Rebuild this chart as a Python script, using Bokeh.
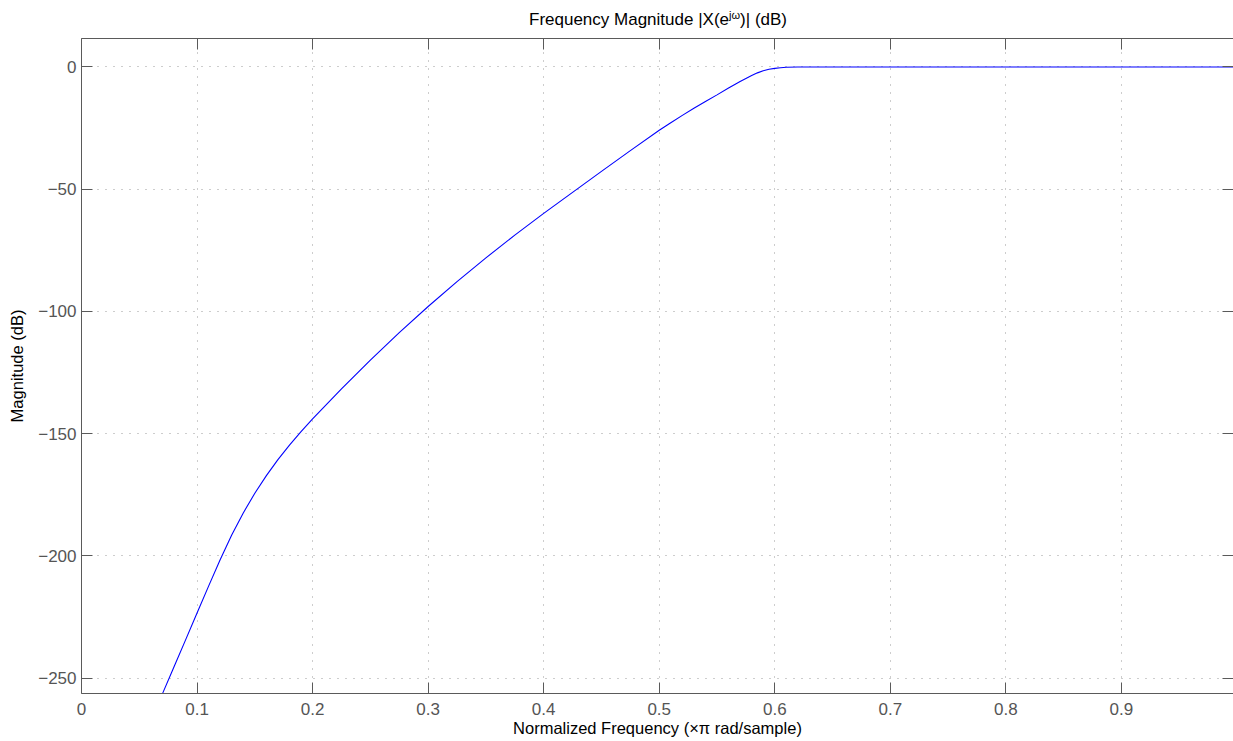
from bokeh.plotting import figure
from bokeh.models import Range1d, LinearAxis, FixedTicker, Div
from bokeh.layouts import column
from bokeh.embed import file_html
from bokeh.resources import INLINE

# ---- data ----
freq = [0.0702, 0.080, 0.090, 0.100, 0.110, 0.120, 0.130, 0.140, 0.150, 0.160,
        0.170, 0.180, 0.190, 0.200, 0.225, 0.250, 0.275, 0.300, 0.325, 0.350,
        0.375, 0.400, 0.425, 0.450, 0.475, 0.500, 0.510, 0.520, 0.530, 0.540,
        0.550, 0.560, 0.570, 0.575, 0.580, 0.585, 0.590, 0.595, 0.600, 0.605,
        0.610, 0.620, 0.630, 0.700, 0.800, 0.900, 0.997]
mag_db = [-256.3, -245.5, -234.5, -223.4, -212.4, -201.6, -191.5, -182.45, -174.4, -167.2,
          -160.65, -154.7, -149.2, -144.0, -131.7, -119.9, -108.7, -98.0, -87.8, -78.1,
          -68.8, -59.9, -51.3, -42.7, -34.2, -25.9, -22.8, -19.8, -16.9, -14.1,
          -11.4, -8.6, -5.9, -4.7, -3.5, -2.4, -1.5, -0.95, -0.55, -0.3,
          -0.13, -0.03, 0.0, 0.0, 0.0, 0.0, 0.0]

x_ticks = [0, 0.1, 0.2, 0.3, 0.4, 0.5, 0.6, 0.7, 0.8, 0.9]
x_tick_labels = ["0", "0.1", "0.2", "0.3", "0.4", "0.5", "0.6", "0.7", "0.8", "0.9"]
y_ticks = [0, -50, -100, -150, -200, -250]
y_tick_labels = ["0", "\u221250", "\u2212100", "\u2212150", "\u2212200", "\u2212250"]

title_main = "Frequency Magnitude |X(e"
title_sup = "j\u03c9"
title_end = ")| (dB)"
x_label = "Normalized Frequency (\u00d7\u03c0 rad/sample)"
y_label = "Magnitude (dB)"

FONT = "Liberation Sans"
AXIS_COL = "#5a5a5a"
TICK_LABEL_COL = "#555555"

title_html = (
    '<div style="padding-left:529px; padding-top:10px; white-space:nowrap; '
    'font-family:\'Liberation Sans\', sans-serif; font-size:17px; line-height:20px; color:#000000;">'
    + title_main
    + '<sup style="font-size:11px; vertical-align:6px; line-height:0;">' + title_sup + '</sup>'
    + title_end + '</div>'
)
title_div = Div(text=title_html, width=1233, height=30, margin=0)

p = figure(width=1233, height=711, title=None,
           x_range=Range1d(0, 0.997), y_range=Range1d(-256.34, 11.66),
           output_backend="svg", toolbar_location=None,
           min_border_left=81, min_border_right=0, min_border_top=8, min_border_bottom=48,
           background_fill_color="white", border_fill_color="white", margin=0)
p.outline_line_color = None

p.line(freq, mag_db, line_color="#0000ff", line_width=1.1)

# box edges with inward ticks, no labels
top_axis = LinearAxis()
p.add_layout(top_axis, "above")
right_axis = LinearAxis()
p.add_layout(right_axis, "right")

for ax in p.xaxis:
    ax.ticker = FixedTicker(ticks=x_ticks)
    ax.major_label_overrides = dict(zip(x_ticks, x_tick_labels))
for ax in p.yaxis:
    ax.ticker = FixedTicker(ticks=y_ticks)
    ax.major_label_overrides = dict(zip(y_ticks, y_tick_labels))

for ax in list(p.xaxis) + list(p.yaxis):
    ax.axis_line_color = AXIS_COL
    ax.axis_line_width = 1
    ax.major_tick_line_color = AXIS_COL
    ax.major_tick_in = 11
    ax.major_tick_out = 0
    ax.minor_tick_line_color = None
    ax.major_label_text_font = FONT
    ax.major_label_text_font_size = "17px"
    ax.major_label_text_color = TICK_LABEL_COL
    ax.axis_label_text_font = FONT
    ax.axis_label_text_font_size = "16.5px"
    ax.axis_label_text_font_style = "normal"
    ax.axis_label_text_color = "#000000"

top_axis.major_label_overrides = {t: "" for t in x_ticks}
top_axis.major_label_text_font_size = "0px"
top_axis.major_label_standoff = 0
right_axis.major_label_overrides = {t: "" for t in y_ticks}
right_axis.major_label_text_font_size = "0px"
right_axis.major_label_standoff = 0
right_axis.axis_line_color = None

xa = p.below[0]
xa.axis_label = x_label
xa.major_label_standoff = 9
xa.axis_label_standoff = 1

ya = p.left[0]
ya.axis_label = y_label
ya.major_label_standoff = 5
ya.axis_label_standoff = 9

for g in (p.xgrid[0], p.ygrid[0]):
    g.grid_line_color = "#9a9a9a"
    g.grid_line_dash = "1 7"
    g.grid_line_width = 1

layout = column(title_div, p, spacing=0)
open("out.html", "w").write(file_html(layout, INLINE))
